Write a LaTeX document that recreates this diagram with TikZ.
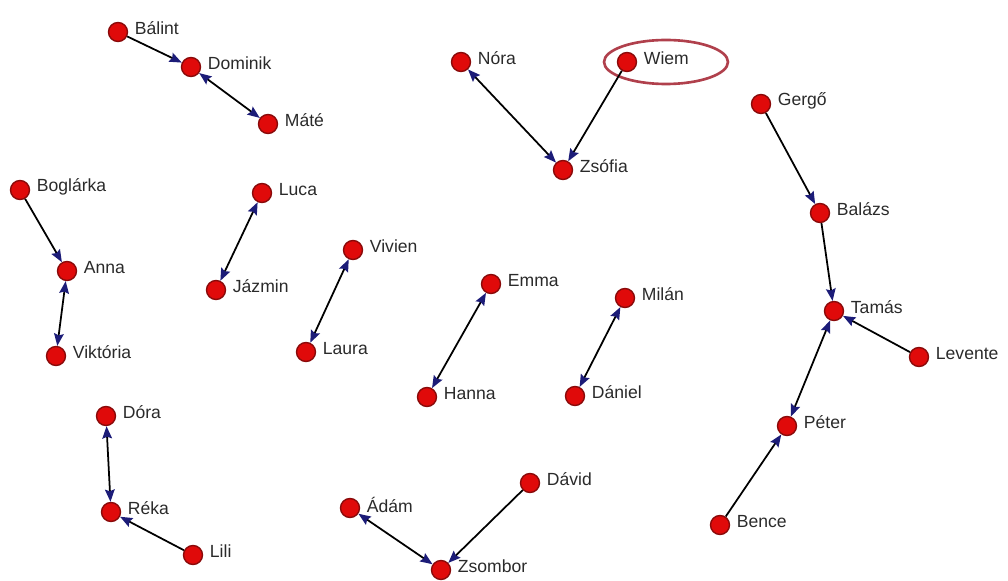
\documentclass[tikz,border=0pt]{standalone}
\usepackage{fontspec}
\setmainfont{Liberation Sans}
\usepackage{xcolor}
\usepackage{tikz}
\usetikzlibrary{arrows.meta}
\usetikzlibrary{shapes.geometric}

\definecolor{nodered}{HTML}{E00A0A}
\definecolor{noderim}{HTML}{8A0A0A}
\definecolor{tipblue}{HTML}{1C1C78}
\definecolor{namegray}{HTML}{2A2A2A}
\definecolor{ringred}{HTML}{B0404C}

\begin{document}
\begin{tikzpicture}[
    x=0.02cm, y=-0.02cm,
    every node/.style={font=\fontsize{10}{12}\selectfont, text=namegray},
    person/.style={circle, draw=noderim, fill=nodered, line width=0.8pt,
      minimum size=0.38cm, inner sep=0pt},
    name tag/.style={label={[yshift=2pt, label distance=0pt]0:#1}},
    every path/.style={line width=1pt},
  ]
\tikzset{>={Stealth[length=7pt, width=5.5pt, inset=1pt, color=tipblue]}}

  \useasboundingbox (0,0) rectangle (1008,581);

  % highlight ring
  \node[ellipse, draw=ringred, line width=1.5pt, minimum width=2.48cm,
    minimum height=0.88cm] (ring) at (666,62) {};

  \node[person, name tag=Bálint]    (balint)   at (118,32)  {};
  \node[person, name tag=Dominik]   (dominik)  at (191,67)  {};
  \node[person, name tag=Máté]      (mate)     at (268,124) {};
  \node[person, name tag=Nóra]      (nora)     at (461,62)  {};
  \node[person, name tag=Wiem]      (wiem)     at (627,62)  {};
  \node[person, name tag=Zsófia]    (zsofia)   at (563,170) {};
  \node[person, name tag=Gergő]     (gergo)    at (761,104) {};
  \node[person, name tag=Balázs]    (balazs)   at (820,213) {};
  \node[person, name tag=Tamás]     (tamas)    at (834,311) {};
  \node[person, name tag=Levente]   (levente)  at (919,357) {};
  \node[person, name tag=Péter]     (peter)    at (787,426) {};
  \node[person, name tag=Bence]     (bence)    at (720,525) {};
  \node[person, name tag=Boglárka]  (boglarka) at (20,190)  {};
  \node[person, name tag=Anna]      (anna)     at (67,271)  {};
  \node[person, name tag=Viktória]  (viktoria) at (56,356)  {};
  \node[person, name tag=Luca]      (luca)     at (262,193) {};
  \node[person, name tag=Jázmin]    (jazmin)   at (216,290) {};
  \node[person, name tag=Vivien]    (vivien)   at (353,250) {};
  \node[person, name tag=Laura]     (laura)    at (306,352) {};
  \node[person, name tag=Emma]      (emma)     at (491,284) {};
  \node[person, name tag=Hanna]     (hanna)    at (427,397) {};
  \node[person, name tag=Milán]     (milan)    at (625,298) {};
  \node[person, name tag=Dániel]    (daniel)   at (575,396) {};
  \node[person, name tag=Dóra]      (dora)     at (106,416) {};
  \node[person, name tag=Réka]      (reka)     at (111,512) {};
  \node[person, name tag=Lili]      (lili)     at (193,555) {};
  \node[person, name tag=Ádám]      (adam)     at (350,508) {};
  \node[person, name tag=Zsombor]   (zsombor)  at (441,570) {};
  \node[person, name tag=Dávid]     (david)    at (530,483) {};

  \draw[->]  (balint)   -- (dominik);
  \draw[<->] (dominik)  -- (mate);
  \draw[<->] (nora)     -- (zsofia);
  \draw[->]  (wiem)     -- (zsofia);
  \draw[->]  (gergo)    -- (balazs);
  \draw[->]  (balazs)   -- (tamas);
  \draw[->]  (levente)  -- (tamas);
  \draw[<->] (tamas)    -- (peter);
  \draw[->]  (bence)    -- (peter);
  \draw[->]  (boglarka) -- (anna);
  \draw[<->] (anna)     -- (viktoria);
  \draw[<->] (luca)     -- (jazmin);
  \draw[<->] (vivien)   -- (laura);
  \draw[<->] (emma)     -- (hanna);
  \draw[<->] (milan)    -- (daniel);
  \draw[<->] (dora)     -- (reka);
  \draw[->]  (lili)     -- (reka);
  \draw[<->] (adam)     -- (zsombor);
  \draw[->]  (david)    -- (zsombor);

\end{tikzpicture}
\end{document}
